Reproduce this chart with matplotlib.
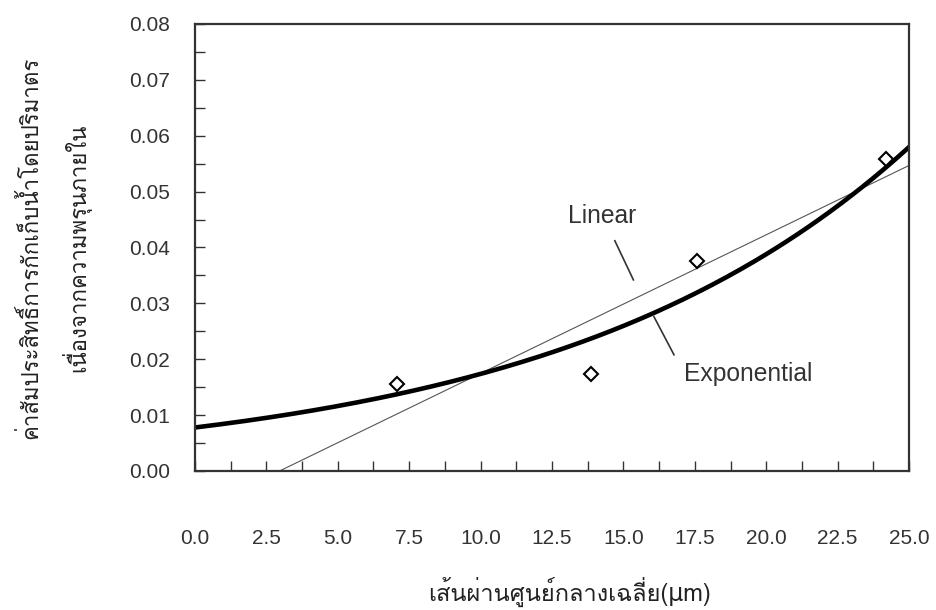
import numpy as np
import matplotlib
matplotlib.use("Agg")
import matplotlib.pyplot as plt
from matplotlib import font_manager
from matplotlib.ft2font import FT2Font
from matplotlib.ticker import MultipleLocator, FormatStrFormatter

# measured points (diameter in um, coefficient)
diameter = [7.07, 13.85, 17.59, 24.2]
coeff = [0.0156, 0.0173, 0.0375, 0.0558]

x_label = "เส้นผ่านศูนย์กลางเฉลี่ย(μm)"
y_label_1 = "ค่าสัมประสิทธิ์การกักเก็บน้ำโดยปริมาตร"
y_label_2 = "เนื่องจากความพรุนภายใน"


def find_thai_font():
    preferred = []
    others = []
    for f in font_manager.fontManager.ttflist:
        try:
            if 0x0E01 in FT2Font(f.fname).get_charmap():
                if "thai" in f.name.lower() or "loma" in f.name.lower():
                    preferred.append(f.name)
                else:
                    others.append(f.name)
        except Exception:
            pass
    found = preferred + others
    return found[0] if found else "DejaVu Sans"


thai_font = find_thai_font()
thai_family = [thai_font, "DejaVu Sans"]

plt.rcParams["font.family"] = ["Liberation Sans", "DejaVu Sans"]

# trend lines fitted to the points
xs = np.linspace(0, 25, 200)
lin = np.polyfit(diameter, coeff, 1)
expfit = np.polyfit(diameter, np.log(coeff), 1)

fig = plt.figure(figsize=(9.36, 6.10), dpi=100)
ax = fig.add_axes([0.2083, 0.2279, 0.7629, 0.7328])

ax.plot(xs, np.polyval(lin, xs), color="#555555", lw=0.8)
ax.plot(xs, np.exp(np.polyval(expfit, xs)), color="black", lw=3.3)
ax.plot(diameter, coeff, "D", ms=7.5, mfc="white", mec="black", mew=1.5,
        linestyle="none", zorder=5)

ax.set_xlim(0, 25)
ax.set_ylim(0, 0.08)
ax.xaxis.set_major_locator(MultipleLocator(2.5))
ax.xaxis.set_minor_locator(MultipleLocator(1.25))
ax.yaxis.set_major_locator(MultipleLocator(0.01))
ax.yaxis.set_minor_locator(MultipleLocator(0.005))
ax.xaxis.set_major_formatter(FormatStrFormatter("%.1f"))
ax.yaxis.set_major_formatter(FormatStrFormatter("%.2f"))

ax.tick_params(axis="both", which="both", direction="in", length=7, width=1,
               color="#333333", labelcolor="#333333")
ax.tick_params(axis="x", which="major", pad=42, labelsize=15)
ax.tick_params(axis="y", which="major", pad=18, labelsize=15)

for side in ax.spines:
    ax.spines[side].set_color("#333333")
    ax.spines[side].set_linewidth(1.6)

# annotations with leader lines
ax.text(14.27, 0.0456, "Linear", fontsize=17.7, color="#333333",
        ha="center", va="center")
ax.plot([14.7, 15.35], [0.0412, 0.0342], color="#333333", lw=1.2)
ax.text(17.12, 0.0173, "Exponential", fontsize=17.7, color="#333333",
        ha="left", va="center")
ax.plot([16.07, 16.77], [0.0276, 0.0208], color="#333333", lw=1.2)

fig.text(570 / 936, 1 - 592 / 610, x_label, family=thai_family, fontsize=17,
         color="#222222", ha="center", va="center")
fig.text(30 / 936, 1 - 248 / 610, y_label_1, family=thai_family, fontsize=16,
         color="#222222", ha="center", va="center", rotation=90)
fig.text(76 / 936, 1 - 248 / 610, y_label_2, family=thai_family, fontsize=16,
         color="#222222", ha="center", va="center", rotation=90)

fig.savefig("out.png", dpi=100)
